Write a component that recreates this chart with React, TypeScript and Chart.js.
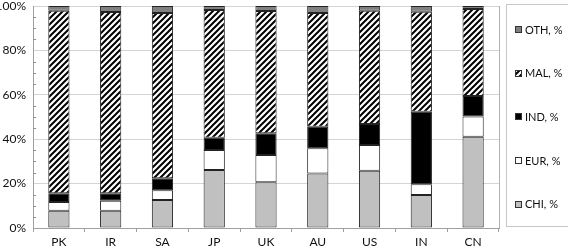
import React, { useEffect, useRef } from "react";
import { Chart, registerables } from "chart.js";

Chart.register(...registerables);

const categories = ["PK", "IR", "SA", "JP", "UK", "AU", "US", "IN", "CN"];
const chiValues = [7.8, 7.8, 12.6, 26.1, 20.6, 24.6, 25.8, 14.9, 41.1];
const eurValues = [3.9, 4.5, 4.4, 9.0, 12.3, 11.3, 11.6, 4.8, 9.1];
const indValues = [3.9, 3.3, 5.4, 5.6, 9.8, 9.7, 9.4, 32.7, 9.3];
const malValues = [82.3, 81.7, 74.5, 57.5, 55.0, 51.3, 51.1, 45.0, 39.1];
const othValues = [2.1, 2.7, 3.1, 1.8, 2.3, 3.1, 2.1, 2.6, 1.4];
const seriesLabels = ["CHI, %", "EUR, %", "IND, %", "MAL, %", "OTH, %"];
const yTicks = [0, 20, 40, 60, 80, 100];

const FONT = "Lato";

function makeHatch(): CanvasPattern | string {
  const c = document.createElement("canvas");
  c.width = 6;
  c.height = 6;
  const g = c.getContext("2d");
  if (!g) return "#888";
  g.fillStyle = "#ffffff";
  g.fillRect(0, 0, 6, 6);
  g.strokeStyle = "#000000";
  g.lineWidth = 2;
  g.beginPath();
  g.moveTo(-1, 7);
  g.lineTo(7, -1);
  g.moveTo(-4, 4);
  g.lineTo(4, -4);
  g.moveTo(2, 10);
  g.lineTo(10, 2);
  g.stroke();
  const p = g.createPattern(c, "repeat");
  return p || "#888";
}

export default function App() {
  const ref = useRef<HTMLCanvasElement | null>(null);

  useEffect(() => {
    document.body.style.margin = "0";
    const canvas = ref.current;
    if (!canvas) return;
    const hatch = makeHatch();
    const fills: any[] = ["#c0c0c0", "#ffffff", "#000000", hatch, "#808080"];
    const values = [chiValues, eurValues, indValues, malValues, othValues];

    const extras = {
      id: "extras",
      afterDraw(chart: any) {
        const ctx = chart.ctx;
        const area = chart.chartArea;
        const y = chart.scales.y;
        ctx.save();
        // right border of plot
        ctx.strokeStyle = "#b0b0b0";
        ctx.lineWidth = 1;
        ctx.beginPath();
        ctx.moveTo(Math.round(area.right) + 0.5, area.top);
        ctx.lineTo(Math.round(area.right) + 0.5, area.bottom);
        ctx.stroke();
        // minor ticks on y axis
        ctx.strokeStyle = "#909090";
        ctx.beginPath();
        for (let v = 5; v < 100; v += 5) {
          if (v % 20 === 0) continue;
          const py = Math.round(y.getPixelForValue(v)) + 0.5;
          ctx.moveTo(area.left, py);
          ctx.lineTo(area.left + 3, py);
        }
        ctx.stroke();
        // legend box
        const bx = area.right + 7;
        const bw = 62;
        const by = area.top - 2;
        const bh = area.bottom - area.top;
        ctx.strokeStyle = "#c8c8c8";
        ctx.strokeRect(Math.round(bx) + 0.5, Math.round(by) + 0.5, bw, bh);
        const ds = chart.data.datasets;
        const n = ds.length;
        ctx.font = "11px " + FONT;
        ctx.textBaseline = "middle";
        ctx.textAlign = "left";
        for (let i = 0; i < n; i++) {
          const d = ds[n - 1 - i];
          const cy = area.top + 23 + i * 43.7;
          const sx = Math.round(bx + 9) + 0.5;
          const sy = Math.round(cy - 3) + 0.5;
          ctx.fillStyle = d.backgroundColor;
          ctx.fillRect(sx, sy, 6, 6);
          ctx.strokeStyle = "#333333";
          ctx.strokeRect(sx, sy, 6, 6);
          ctx.fillStyle = "#111111";
          ctx.fillText(d.label, bx + 19, cy + 1);
        }
        ctx.restore();
      },
    };

    const chart = new Chart(canvas, {
      type: "bar",
      data: {
        labels: categories,
        datasets: seriesLabels.map((lab, i) => ({
          label: lab,
          data: values[i],
          backgroundColor: fills[i],
          borderColor: "#222222",
          borderWidth: 1,
          borderSkipped: false,
          barPercentage: 0.41,
          categoryPercentage: 1,
        })),
      },
      options: {
        animation: false,
        responsive: false,
        maintainAspectRatio: false,
        layout: { padding: { top: 6, right: 69, bottom: 0, left: 0 } },
        plugins: {
          legend: { display: false },
          tooltip: { enabled: false },
        },
        scales: {
          x: {
            stacked: true,
            offset: true,
            grid: {
              display: true,
              drawOnChartArea: false,
              drawTicks: true,
              tickLength: 4,
              offset: true,
              color: "#a0a0a0",
            },
            border: { display: true, color: "#a0a0a0" },
            ticks: {
              padding: 3,
              color: "#111111",
              font: { family: FONT, size: 12 },
            },
            afterFit(scale: any) {
              scale.height = 23;
              scale.paddingLeft = 0;
              scale.paddingRight = 0;
            },
          },
          y: {
            stacked: true,
            min: 0,
            max: 100,
            afterBuildTicks(scale: any) {
              scale.ticks = yTicks.map((v) => ({ value: v }));
            },
            grid: {
              color: "#d4d4d4",
              drawTicks: false,
            },
            border: { display: true, color: "#a0a0a0" },
            ticks: {
              padding: 7,
              color: "#111111",
              font: { family: FONT, size: 12 },
              callback: (v: any) => v + "%",
            },
            afterFit(scale: any) {
              scale.width = 37;
              scale.paddingTop = 0;
              scale.paddingBottom = 0;
            },
          },
        },
      },
      plugins: [extras],
    });
    return () => chart.destroy();
  }, []);

  return (
    <div style={{ position: "fixed", left: -4, top: 0, width: 572, height: 251 }}>
      <canvas ref={ref} width={572} height={251} style={{ display: "block" }} />
    </div>
  );
}
